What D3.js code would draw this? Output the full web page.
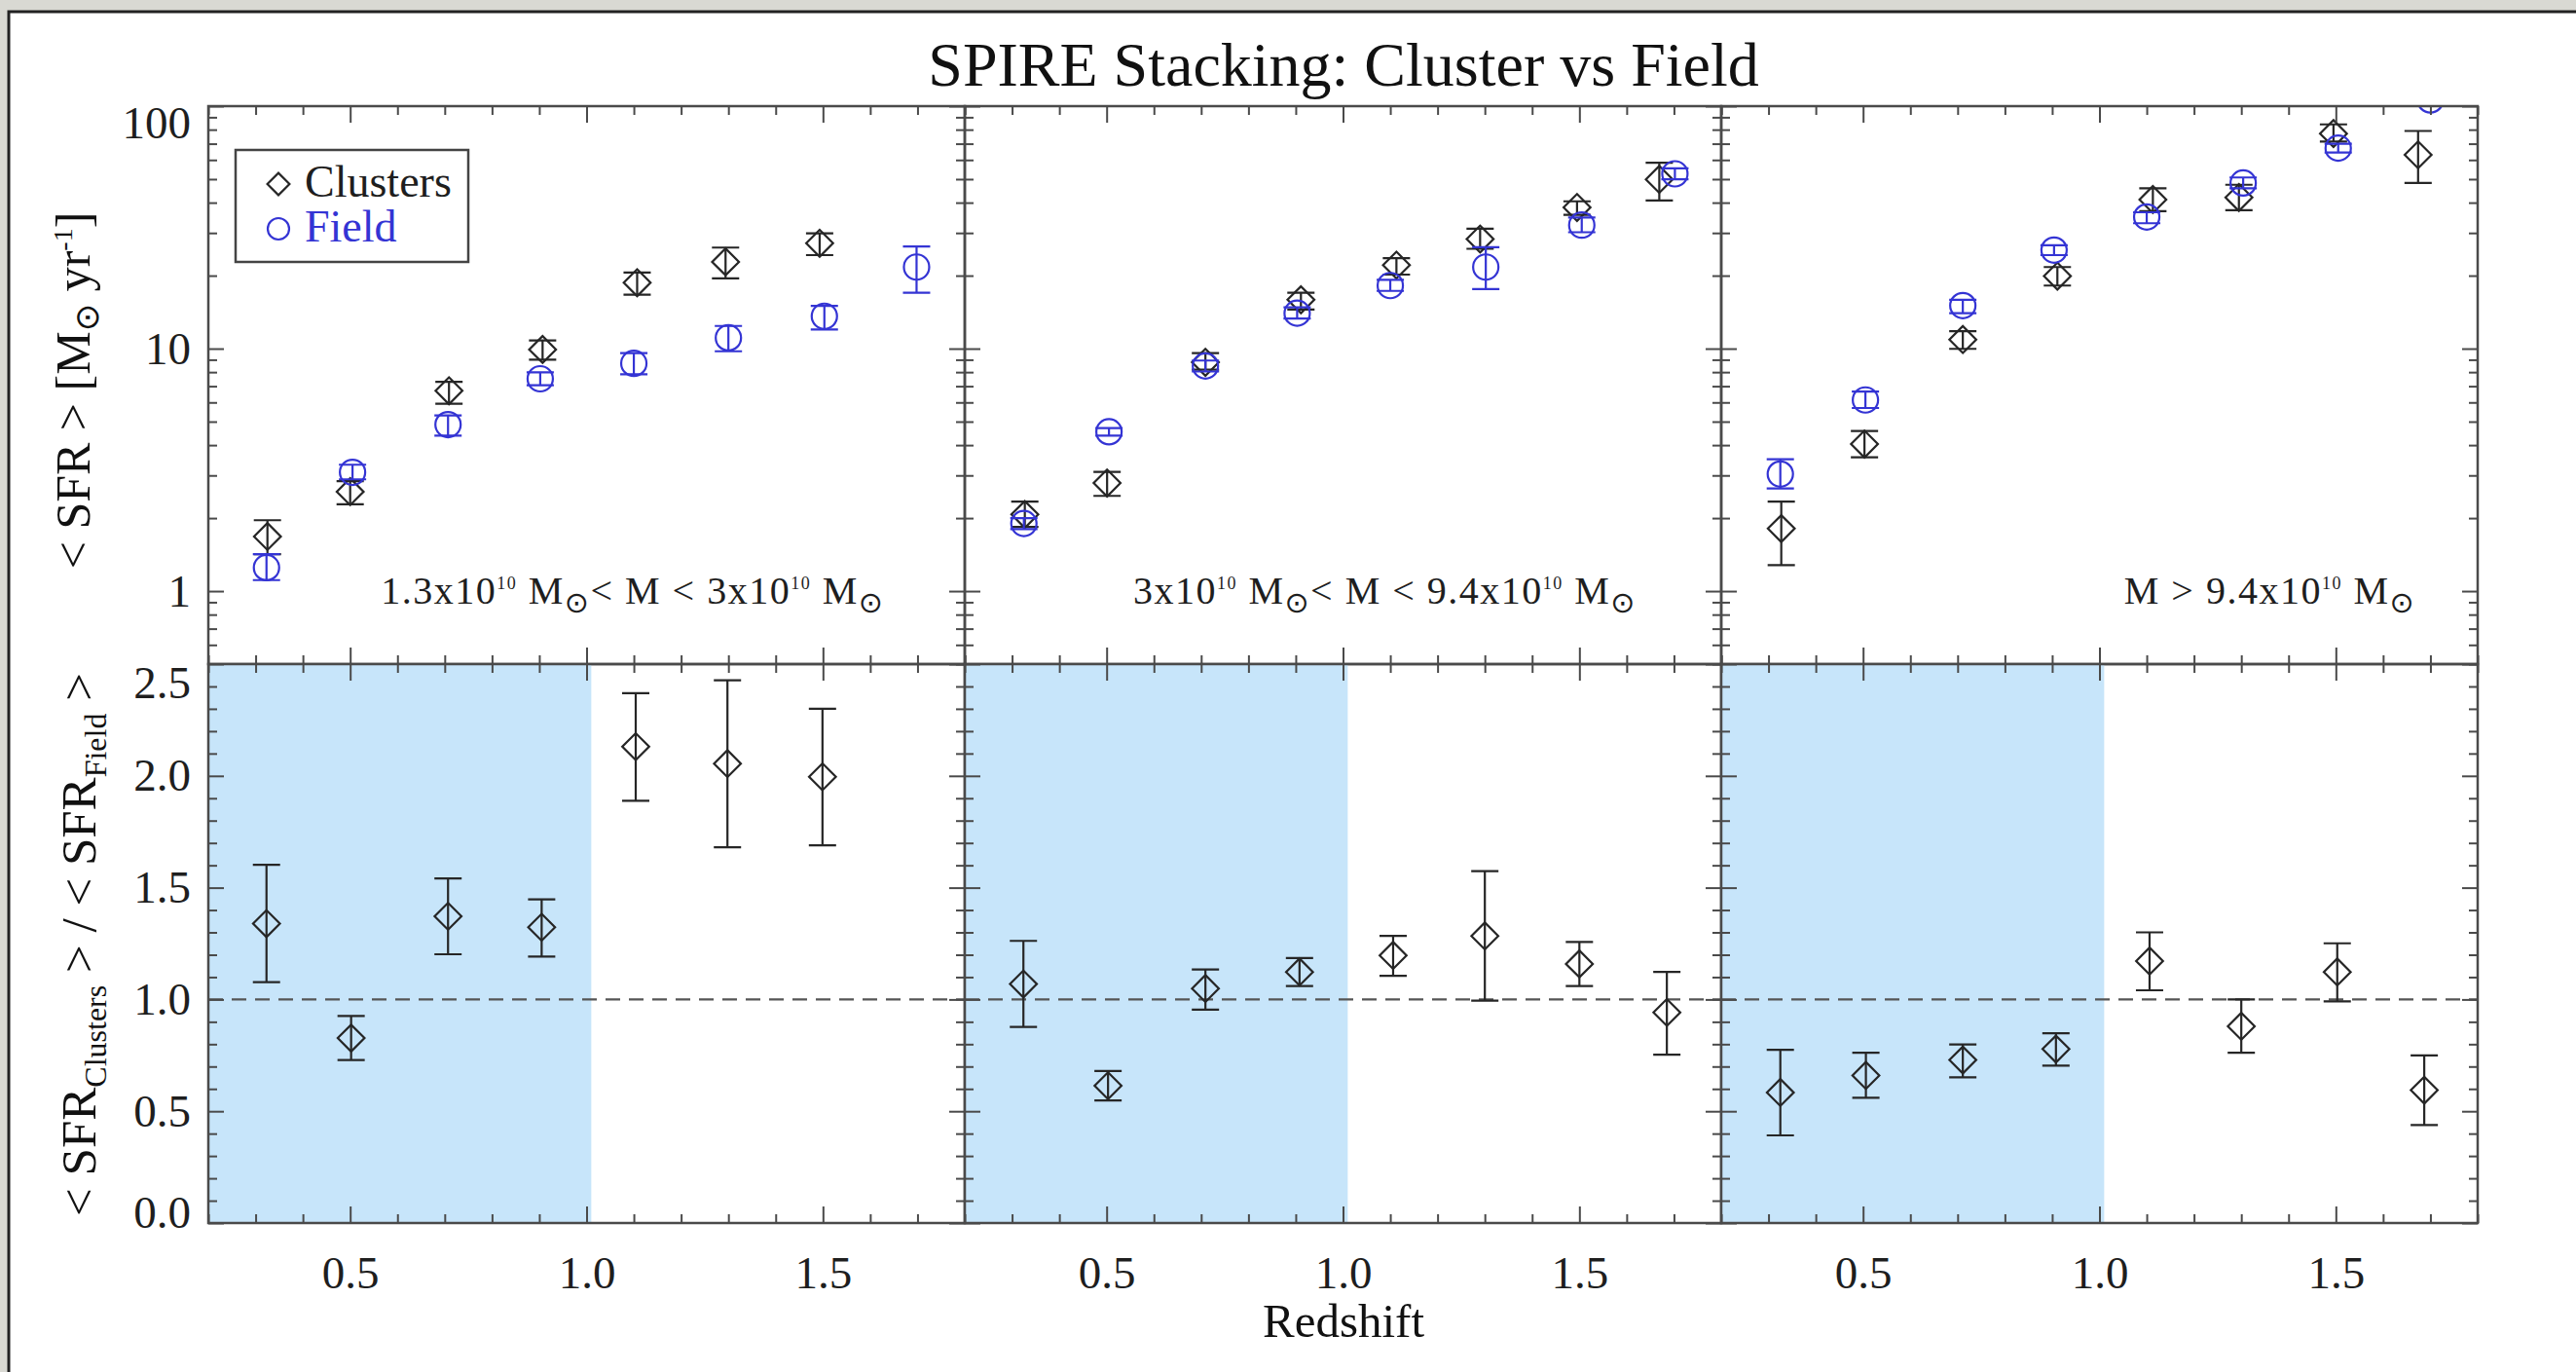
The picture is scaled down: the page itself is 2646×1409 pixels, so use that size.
<!DOCTYPE html>
<html>
<head>
<meta charset="utf-8">
<script src="https://cdn.jsdelivr.net/npm/d3@7"></script>
<style>
  html, body { margin: 0; padding: 0; background: #d9d9d3; }
  svg { display: block; }
  text { font-family: "Liberation Serif", "Times New Roman", serif; white-space: pre; }
</style>
</head>
<body>
<div id="chart"></div>
<script>
// ---- data ----
// panel 1: 1.3e10 < M < 3e10
const clusterZ1   = [0.325, 0.500, 0.709, 0.907, 1.107, 1.294, 1.493];
const clusterSFR1 = [1.68, 2.57, 6.70, 9.92, 18.7, 22.8, 27.2];
const clusterLo1  = [1.42, 2.28, 5.93, 9.00, 16.7, 19.5, 24.3];
const clusterHi1  = [1.96, 2.84, 7.30, 10.8, 20.6, 26.1, 29.9];
const fieldZ1     = [0.323, 0.505, 0.707, 0.902, 1.100, 1.300, 1.503, 1.698];
const fieldSFR1   = [1.25, 3.09, 4.86, 7.51, 8.69, 11.08, 13.6, 21.7];
const fieldLo1    = [1.11, 2.89, 4.38, 7.06, 7.83, 9.75, 12.0, 17.0];
const fieldHi1    = [1.42, 3.32, 5.30, 7.98, 9.58, 12.4, 15.0, 26.4];
const ratioZ1     = [0.323, 0.502, 0.707, 0.905, 1.104, 1.298, 1.499];
const ratio1      = [1.339, 0.827, 1.372, 1.323, 2.131, 2.055, 1.996];
const ratioLo1    = [1.077, 0.729, 1.202, 1.192, 1.889, 1.681, 1.689];
const ratioHi1    = [1.602, 0.926, 1.541, 1.448, 2.370, 2.428, 2.300];

// panel 2: 3e10 < M < 9.4e10
const clusterZ2   = [0.327, 0.501, 0.709, 0.911, 1.113, 1.290, 1.495, 1.669];
const clusterSFR2 = [2.07, 2.79, 8.78, 15.9, 22.1, 28.3, 38.2, 49.9];
const clusterLo2  = [1.84, 2.47, 8.19, 14.5, 20.2, 25.8, 35.6, 40.8];
const clusterHi2  = [2.34, 3.10, 9.58, 17.0, 23.6, 31.2, 40.5, 58.4];
const fieldZ2     = [0.325, 0.505, 0.709, 0.903, 1.100, 1.302, 1.505, 1.702];
const fieldSFR2   = [1.90, 4.54, 8.48, 14.0, 18.2, 21.7, 32.3, 52.6];
const fieldLo2    = [1.80, 4.38, 8.05, 13.3, 17.3, 17.6, 30.2, 49.9];
const fieldHi2    = [2.00, 4.70, 8.93, 14.8, 19.2, 26.2, 34.7, 55.4];
const ratioZ2     = [0.324, 0.503, 0.709, 0.908, 1.106, 1.300, 1.500, 1.685];
const ratio2      = [1.069, 0.614, 1.049, 1.123, 1.197, 1.284, 1.159, 0.942];
const ratioLo2    = [0.877, 0.548, 0.954, 1.060, 1.106, 0.995, 1.060, 0.753];
const ratioHi2    = [1.262, 0.680, 1.134, 1.185, 1.284, 1.574, 1.257, 1.123];

// panel 3: M > 9.4e10
const clusterZ3   = [0.327, 0.503, 0.711, 0.911, 1.113, 1.295, 1.495, 1.674];
const clusterSFR3 = [1.81, 4.04, 10.9, 19.9, 41.2, 42.0, 77.1, 63.0];
const clusterLo3  = [1.28, 3.56, 9.98, 18.2, 36.9, 37.2, 71.4, 48.2];
const clusterHi3  = [2.34, 4.57, 11.8, 21.7, 45.8, 47.4, 84.1, 79.0];
const fieldZ3     = [0.325, 0.505, 0.711, 0.904, 1.100, 1.304, 1.505, 1.700];
const fieldSFR3   = [3.04, 6.14, 15.05, 25.5, 34.9, 48.2, 67.1, 106];
const fieldLo3    = [2.65, 5.69, 14.0, 24.3, 32.9, 45.8, 64.4, 100];
const fieldHi3    = [3.50, 6.65, 15.9, 26.7, 36.5, 50.8, 70.0, 112];
const ratioZ3     = [0.325, 0.506, 0.711, 0.908, 1.106, 1.300, 1.503, 1.687];
const ratio3      = [0.584, 0.660, 0.729, 0.778, 1.172, 0.880, 1.123, 0.594];
const ratioLo3    = [0.392, 0.560, 0.652, 0.704, 1.041, 0.762, 0.991, 0.438];
const ratioHi3    = [0.775, 0.762, 0.799, 0.849, 1.300, 1.000, 1.251, 0.750];

// ticks, labels
const redshiftTicks = [0.5, 1.0, 1.5];
const redshiftMinor = [0.2, 0.3, 0.4, 0.6, 0.7, 0.8, 0.9, 1.1, 1.2, 1.3, 1.4, 1.6, 1.7, 1.8];
const sfrTicks = [1, 10, 100];
const sfrMinor = [0.5, 0.6, 0.7, 0.8, 0.9, 2, 3, 4, 5, 6, 7, 8, 9, 20, 30, 40, 50, 60, 70, 80, 90];
const ratioTicks = [0, 0.5, 1.0, 1.5, 2.0, 2.5];
const ratioMinor = [0.1, 0.2, 0.3, 0.4, 0.6, 0.7, 0.8, 0.9, 1.1, 1.2, 1.3, 1.4, 1.6, 1.7, 1.8, 1.9, 2.1, 2.2, 2.3, 2.4];
const massLabels = ["1.3x10^{10} M_{⊙}< M < 3x10^{10} M_{⊙}",
                    "3x10^{10} M_{⊙}< M < 9.4x10^{10} M_{⊙}",
                    "M > 9.4x10^{10} M_{⊙}"];
const massLabelZ = [0.565, 0.556, 1.052];
const shadeLimit = 1.01;   // low-z region shaded in the ratio panels
const ratioRef = 1.0;

const panels = [
  {cz: clusterZ1, cs: clusterSFR1, clo: clusterLo1, chi: clusterHi1, fz: fieldZ1, fs: fieldSFR1, flo: fieldLo1, fhi: fieldHi1, rz: ratioZ1, r: ratio1, rlo: ratioLo1, rhi: ratioHi1},
  {cz: clusterZ2, cs: clusterSFR2, clo: clusterLo2, chi: clusterHi2, fz: fieldZ2, fs: fieldSFR2, flo: fieldLo2, fhi: fieldHi2, rz: ratioZ2, r: ratio2, rlo: ratioLo2, rhi: ratioHi2},
  {cz: clusterZ3, cs: clusterSFR3, clo: clusterLo3, chi: clusterHi3, fz: fieldZ3, fs: fieldSFR3, flo: fieldLo3, fhi: fieldHi3, rz: ratioZ3, r: ratio3, rlo: ratioLo3, rhi: ratioHi3}
];

// ---- layout ----
const width = 2646, height = 1409;
const panelLeft = [214, 991, 1768], panelW = 777;
const topY = 109, midY = 682, botY = 1256;
const clusterColor = "#262626", fieldColor = "#3434d4", axisColor = "#4a4a4a";

const svg = d3.select("#chart").append("svg")
    .attr("width", width)
    .attr("height", height);

svg.append("rect").attr("width", width).attr("height", height).attr("fill", "#d9d9d3");
svg.append("rect")
    .attr("x", 9).attr("y", 12)
    .attr("width", width).attr("height", height)
    .attr("fill", "#fff")
    .attr("stroke", "#222").attr("stroke-width", 3);

const ySFR = d3.scaleLog().domain([0.5, 100]).range([midY, topY]);
const yRatio = d3.scaleLinear().domain([0, 2.5]).range([botY, midY]);

const diamond = d3.symbol().type(d3.symbolSquare).size(380);

// text with ^{sup} and _{sub} pieces
function richText(sel, str, fs, supFs, supShift, subFs, subShift) {
    const parts = str.split(/(\^\{[^}]*\}|_\{[^}]*\})/).filter(s => s.length);
    let cur = 0;
    parts.forEach(p => {
        let txt = p, size = fs, off = 0;
        if (p.startsWith("^{")) { txt = p.slice(2, -1); size = supFs; off = -supShift; }
        else if (p.startsWith("_{")) { txt = p.slice(2, -1); size = subFs; off = subShift; }
        const t = sel.append("tspan").attr("dy", off - cur).attr("font-size", size).text(txt);
        if (txt === "⊙") t.attr("font-family", "DejaVu Sans");
        cur = off;
    });
}

function styleAxis(g, fs) {
    g.select(".domain").remove();
    g.selectAll(".tick line").attr("stroke", axisColor).attr("stroke-width", 2);
    g.selectAll(".tick text")
        .attr("font-family", "Liberation Serif")
        .attr("font-size", fs)
        .attr("fill", "#1e1e1e");
}

// draws major+minor inward ticks on all four sides
function frameAxes(g, x, y, yTop, yBot, yMaj, yMin, xLabels, yLabels, yFmt, yShift) {
    const left = x.range()[0], right = x.range()[1];
    // x axes
    g.append("g").attr("transform", `translate(0,${yTop})`)
        .call(d3.axisTop(x).tickValues(redshiftTicks).tickSizeInner(-17).tickSizeOuter(0).tickFormat(""))
        .call(a => styleAxis(a, 47));
    g.append("g").attr("transform", `translate(0,${yTop})`)
        .call(d3.axisTop(x).tickValues(redshiftMinor).tickSizeInner(-9).tickSizeOuter(0).tickFormat(""))
        .call(a => styleAxis(a, 47));
    g.append("g").attr("transform", `translate(0,${yBot})`)
        .call(d3.axisBottom(x).tickValues(redshiftTicks).tickSizeInner(-17).tickSizeOuter(0)
            .tickPadding(34).tickFormat(xLabels ? d3.format(".1f") : ""))
        .call(a => styleAxis(a, 47));
    g.append("g").attr("transform", `translate(0,${yBot})`)
        .call(d3.axisBottom(x).tickValues(redshiftMinor).tickSizeInner(-9).tickSizeOuter(0).tickFormat(""))
        .call(a => styleAxis(a, 47));
    // y axes
    const yl = g.append("g").attr("transform", `translate(${left},0)`)
        .call(d3.axisLeft(y).tickValues(yMaj).tickSizeInner(-16).tickSizeOuter(0)
            .tickPadding(18).tickFormat(yLabels ? yFmt : ""))
        .call(a => styleAxis(a, 47));
    yl.selectAll(".tick text").attr("transform", d => `translate(0,${yShift[d] || 0})`);
    g.append("g").attr("transform", `translate(${left},0)`)
        .call(d3.axisLeft(y).tickValues(yMin).tickSizeInner(-9).tickSizeOuter(0).tickFormat(""))
        .call(a => styleAxis(a, 47));
    g.append("g").attr("transform", `translate(${right},0)`)
        .call(d3.axisRight(y).tickValues(yMaj).tickSizeInner(-16).tickSizeOuter(0).tickFormat(""))
        .call(a => styleAxis(a, 47));
    g.append("g").attr("transform", `translate(${right},0)`)
        .call(d3.axisRight(y).tickValues(yMin).tickSizeInner(-9).tickSizeOuter(0).tickFormat(""))
        .call(a => styleAxis(a, 47));
    g.append("rect")
        .attr("x", left).attr("y", yTop)
        .attr("width", right - left).attr("height", yBot - yTop)
        .attr("fill", "none").attr("stroke", axisColor).attr("stroke-width", 2.5);
}

function errorBars(g, pts, x, y, color) {
    const cap = 14;
    const eb = g.append("g").attr("stroke", color).attr("stroke-width", 2.2).attr("fill", "none");
    eb.selectAll(".err")
        .data(pts)
        .join("path")
        .attr("d", d => {
            const px = x(d.z), y0 = y(d.lo), y1 = y(d.hi);
            return `M${px - cap},${y1}H${px + cap}M${px},${y1}V${y0}M${px - cap},${y0}H${px + cap}`;
        });
}

function zipPts(z, v, lo, hi) {
    return z.map((d, i) => ({z: d, v: v[i], lo: lo[i], hi: hi[i]}));
}

panels.forEach((p, i) => {
    const left = panelLeft[i];
    const x = d3.scaleLinear().domain([0.2, 1.8]).range([left, left + panelW]);
    const g = svg.append("g");

    // clip regions
    const clipTop = `clipTop${i}`, clipBot = `clipBot${i}`;
    const defs = svg.append("defs");
    defs.append("clipPath").attr("id", clipTop).append("rect")
        .attr("x", left).attr("y", topY).attr("width", panelW).attr("height", midY - topY);
    defs.append("clipPath").attr("id", clipBot).append("rect")
        .attr("x", left).attr("y", midY).attr("width", panelW).attr("height", botY - midY);

    // ---- top panel: <SFR> vs redshift ----
    const top = g.append("g").attr("clip-path", `url(#${clipTop})`);
    const cPts = zipPts(p.cz, p.cs, p.clo, p.chi);
    const fPts = zipPts(p.fz, p.fs, p.flo, p.fhi);

    errorBars(top, cPts, x, ySFR, clusterColor);
    top.selectAll(".cl")
        .data(cPts)
        .join("path")
        .attr("d", diamond)
        .attr("transform", d => `translate(${x(d.z)},${ySFR(d.v)}) rotate(45)`)
        .attr("fill", "none").attr("stroke", clusterColor).attr("stroke-width", 2.2);

    errorBars(top, fPts, x, ySFR, fieldColor);
    top.selectAll(".fd")
        .data(fPts)
        .join("circle")
        .attr("cx", d => x(d.z))
        .attr("cy", d => ySFR(d.v))
        .attr("r", 13)
        .attr("fill", "none").attr("stroke", fieldColor).attr("stroke-width", 2.2);

    frameAxes(g, x, ySFR, topY, midY, sfrTicks, sfrMinor, false, i === 0, d3.format("d"), {100: 17});

    g.append("text")
        .attr("x", x(massLabelZ[i]))
        .attr("y", 620)
        .attr("fill", "#1e1e1e")
        .attr("letter-spacing", 1.5)
        .call(t => richText(t, massLabels[i], 40, 18, 15, 30, 9));

    // ---- bottom panel: ratio ----
    const bot = g.append("g").attr("clip-path", `url(#${clipBot})`);
    bot.append("rect")
        .attr("x", x(0.2)).attr("y", midY)
        .attr("width", x(shadeLimit) - x(0.2)).attr("height", botY - midY)
        .attr("fill", "#c7e5fa");
    bot.append("line")
        .attr("x1", left).attr("x2", left + panelW)
        .attr("y1", yRatio(ratioRef)).attr("y2", yRatio(ratioRef))
        .attr("stroke", "#555").attr("stroke-width", 2.2)
        .attr("stroke-dasharray", "15,9");

    const rPts = zipPts(p.rz, p.r, p.rlo, p.rhi);
    errorBars(bot, rPts, x, yRatio, clusterColor);
    bot.selectAll(".rt")
        .data(rPts)
        .join("path")
        .attr("d", diamond)
        .attr("transform", d => `translate(${x(d.z)},${yRatio(d.v)}) rotate(45)`)
        .attr("fill", "none").attr("stroke", clusterColor).attr("stroke-width", 2.2);

    frameAxes(g, x, yRatio, midY, botY, ratioTicks, ratioMinor, true, i === 0, d3.format(".1f"), {2.5: 19, 0: -11});
});

// legend
const leg = svg.append("g");
leg.append("rect")
    .attr("x", 242).attr("y", 154).attr("width", 239).attr("height", 115)
    .attr("fill", "#fff").attr("stroke", "#444").attr("stroke-width", 2.5);
leg.append("path")
    .attr("d", d3.symbol().type(d3.symbolSquare).size(260))
    .attr("transform", "translate(286,189) rotate(45)")
    .attr("fill", "none").attr("stroke", clusterColor).attr("stroke-width", 2.2);
leg.append("text").attr("x", 313).attr("y", 202).attr("font-size", 46).attr("fill", "#1e1e1e").text("Clusters");
leg.append("circle")
    .attr("cx", 286).attr("cy", 235).attr("r", 11)
    .attr("fill", "none").attr("stroke", fieldColor).attr("stroke-width", 2.2);
leg.append("text").attr("x", 313).attr("y", 248).attr("font-size", 46).attr("fill", fieldColor).text("Field");

// titles
svg.append("text")
    .attr("x", 1380).attr("y", 88)
    .attr("text-anchor", "middle")
    .attr("font-size", 64).attr("fill", "#111")
    .text("SPIRE Stacking: Cluster vs Field");

svg.append("text")
    .attr("x", 1380).attr("y", 1373)
    .attr("text-anchor", "middle")
    .attr("font-size", 49).attr("fill", "#111")
    .text("Redshift");

svg.append("text")
    .attr("transform", "translate(92,401) rotate(-90)")
    .attr("text-anchor", "middle")
    .attr("fill", "#111")
    .call(t => richText(t, "< SFR > [M_{⊙} yr^{-1}]", 50, 28, 18, 34, 9));

svg.append("text")
    .attr("transform", "translate(98,970) rotate(-90)")
    .attr("text-anchor", "middle")
    .attr("fill", "#111")
    .call(t => richText(t, "< SFR_{Clusters} > / < SFR_{Field} >", 51, 30, 18, 32, 11));
</script>
</body>
</html>
